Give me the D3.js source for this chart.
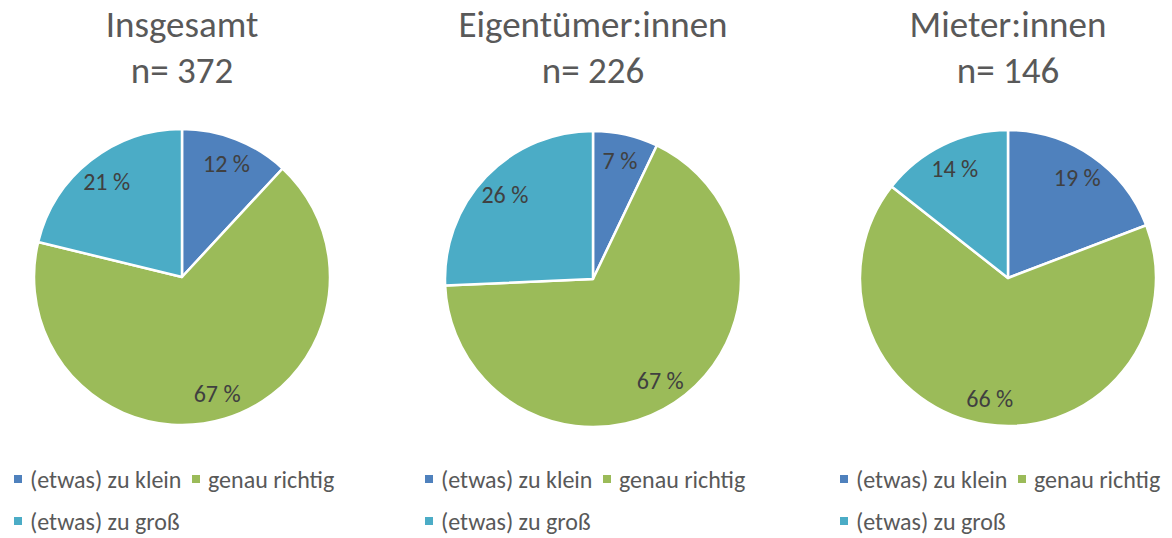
<!DOCTYPE html>
<html>
<head>
<meta charset="utf-8">
<script src="https://cdn.jsdelivr.net/npm/d3@7"></script>
<style>
  body { margin: 0; background: #fff; }
  svg { display: block; font-family: "Carlito", Calibri, Lato, sans-serif; }
</style>
</head>
<body>
<svg id="chart" width="1172" height="538"></svg>
<script>
const categories = ["(etwas) zu klein", "genau richtig", "(etwas) zu groß"];
const colors = ["#4f81bd", "#9bbb59", "#4bacc6"];

const titles = ["Insgesamt", "Eigentümer:innen", "Mieter:innen"];
const sampleSizes = [372, 226, 146];

// shares in percent
const totalValues = [11.9, 66.9, 21.2];
const ownerValues = [7.1, 67.2, 25.7];
const tenantValues = [19.2, 66.4, 14.4];
const series = [totalValues, ownerValues, tenantValues];

const svg = d3.select("#chart");
const radius = 148;

const centersX = [182, 593, 1008];
const centersY = [277, 279, 278];
const legendX = [14, 425, 840];

const color = d3.scaleOrdinal().domain(categories).range(colors);

const pie = d3.pie().sort(null).value(d => d.value);
const arc = d3.arc().innerRadius(0).outerRadius(radius);
const labelArc = d3.arc().innerRadius(122).outerRadius(122);

series.forEach((values, i) => {
    const data = categories.map((c, j) => ({category: c, value: values[j]}));

    const title = svg.append("text")
        .attr("text-anchor", "middle")
        .attr("fill", "#595959")
        .style("font-size", "37px");
    title.append("tspan").attr("x", centersX[i]).attr("y", 37).text(titles[i]);
    title.append("tspan").attr("x", centersX[i]).attr("y", 83).text("n= " + sampleSizes[i]);

    const g = svg.append("g")
        .attr("transform", `translate(${centersX[i]}, ${centersY[i]})`);

    g.selectAll("path")
        .data(pie(data))
        .enter()
        .append("path")
            .attr("d", arc)
            .attr("fill", d => color(d.data.category))
            .attr("stroke", "#fff")
            .attr("stroke-width", 2.5)
            .attr("stroke-linejoin", "round");

    g.selectAll("text.label")
        .data(pie(data))
        .enter()
        .append("text")
            .attr("class", "label")
            .attr("transform", d => `translate(${labelArc.centroid(d)})`)
            .attr("text-anchor", "middle")
            .attr("dy", "0.36em")
            .attr("fill", "#404040")
            .style("font-size", "24px")
            .text(d => Math.round(d.data.value) + " %");

    // legend: two items on the first row, one on the second
    const legend = svg.append("g")
        .attr("transform", `translate(${legendX[i]}, 0)`);
    const rowY = [479, 521];

    categories.forEach((c, j) => {
        const lx = j === 1 ? 178 : 0;
        const ly = j === 2 ? rowY[1] : rowY[0];
        legend.append("rect")
            .attr("x", lx)
            .attr("y", ly - 4)
            .attr("width", 8)
            .attr("height", 8)
            .attr("fill", color(c));
        legend.append("text")
            .attr("x", lx + 16)
            .attr("y", ly)
            .attr("dy", "0.36em")
            .attr("fill", "#595959")
            .style("font-size", "24px")
            .text(c);
    });
});
</script>
</body>
</html>
